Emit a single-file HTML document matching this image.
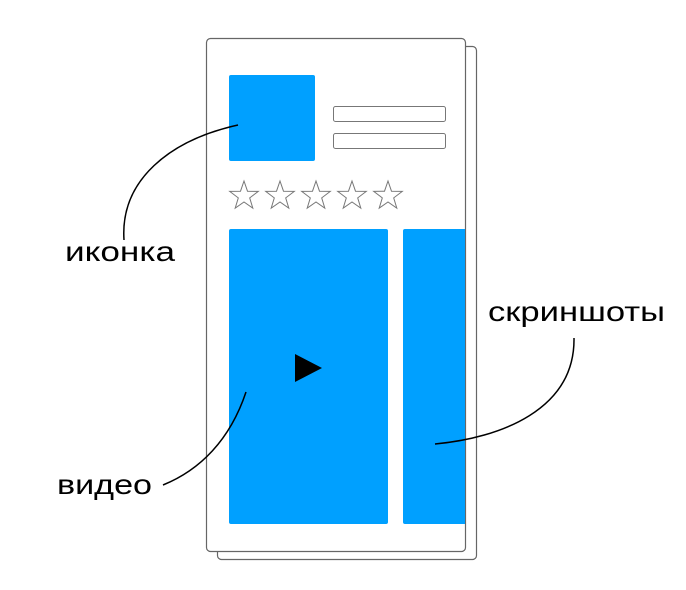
<!DOCTYPE html>
<html><head><meta charset="utf-8"><style>html,body{margin:0;padding:0;background:#fff}</style></head>
<body>
<svg width="686" height="585" viewBox="0 0 686 585" xmlns="http://www.w3.org/2000/svg">
<rect x="217.5" y="46.5" width="259" height="513" rx="4" fill="#fff" stroke="#666" stroke-width="1.2"/>
<rect x="206.5" y="38.5" width="259" height="513" rx="4" fill="#fff" stroke="#666" stroke-width="1.2"/>
<rect x="229" y="75" width="86" height="86" rx="2" fill="#00a0ff"/>
<rect x="333.5" y="106.5" width="112" height="15" rx="2" fill="#fff" stroke="#777"/>
<rect x="333.5" y="133.5" width="112" height="15" rx="2" fill="#fff" stroke="#777"/>
<g fill="none" stroke="#777" stroke-width="1">
<path id="s" d="M0,-15 L3.5,-4.8 L14.3,-4.6 L5.7,1.9 L8.8,12.1 L0,6 L-8.8,12.1 L-5.7,1.9 L-14.3,-4.6 L-3.5,-4.8 Z" transform="translate(244,196)"/>
<use href="#s" x="36"/><use href="#s" x="72"/><use href="#s" x="108"/><use href="#s" x="144"/>
</g>
<rect x="229" y="229" width="159" height="295" rx="2" fill="#00a0ff"/>
<path d="M403,231 a2,2 0 0 1 2,-2 H465 V524 H405 a2,2 0 0 1 -2,-2 Z" fill="#00a0ff"/>
<path d="M295,354 L322,368 L295,382 Z" fill="#000"/>
<g fill="none" stroke="#000" stroke-width="1.5">
<path d="M238,125 C170,140 120,180 124,240"/>
<path d="M246,392 C230,440 200,470 163,485"/>
<path d="M574,338 C575,410 500,438 435,444"/>
</g>
<g font-family="Liberation Sans, sans-serif" font-size="28" fill="#000">
<text x="65" y="261" textLength="110" lengthAdjust="spacingAndGlyphs">иконка</text>
<text x="488" y="321" textLength="177" lengthAdjust="spacingAndGlyphs">скриншоты</text>
<text x="57" y="494" textLength="95" lengthAdjust="spacingAndGlyphs">видео</text>
</g>
</svg>
</body></html>
